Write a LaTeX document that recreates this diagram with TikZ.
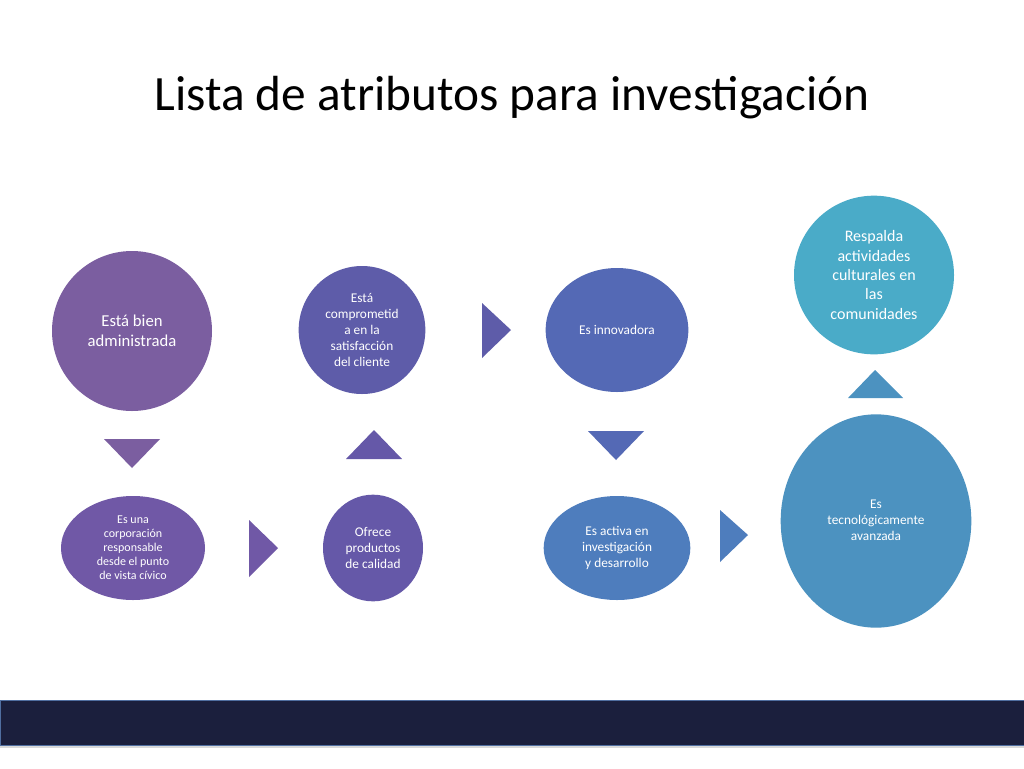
\documentclass[tikz,border=0pt]{standalone}
\usepackage{fontspec}
\setmainfont{Carlito}
\usetikzlibrary{shapes.geometric}
\begin{document}
\begin{tikzpicture}[x=0.75pt,y=-0.75pt,
  el/.style={ellipse,inner sep=0pt,text=white,align=center,font=\fontsize{10}{12}\selectfont},
  tri/.style={fill=#1}]
\useasboundingbox (0,0) rectangle (1024,768);
\fill[white] (0,0) rectangle (1024,768);
\node (title) at (512,98) {\fontsize{37}{44}\selectfont Lista de atributos para investigación};
\fill[black!15] (0,702) rectangle (1024,748);
\filldraw[fill={rgb,255:red,27;green,31;blue,61},draw={rgb,255:red,80;green,110;blue,160},line width=0.6pt] (0,700) rectangle (1024,745);
\definecolor{c1}{RGB}{123,94,160}
\definecolor{c2}{RGB}{112,88,166}
\definecolor{c3}{RGB}{101,88,168}
\definecolor{c4}{RGB}{94,92,169}
\definecolor{c5}{RGB}{84,105,181}
\definecolor{c6}{RGB}{78,125,189}
\definecolor{c7}{RGB}{76,146,192}
\definecolor{c8}{RGB}{74,171,200}
\node[el,fill=c1,minimum width=120pt,minimum height=120pt,font=\fontsize{12.5}{15}\selectfont] (e1) at (132,331) {Está bien\\administrada};
\node[el,fill=c2,minimum width=108pt,minimum height=78pt,font=\fontsize{9}{10.5}\selectfont] (e2) at (133,548) {Es una\\corporación\\responsable\\desde el punto\\de vista cívico};
\node[el,fill=c3,minimum width=75pt,minimum height=80pt] (e3) at (373,548) {Ofrece\\productos\\de calidad};
\node[el,fill=c4,minimum width=95pt,minimum height=96pt] (e4) at (362,330) {Está\\comprometid\\a en la\\satisfacción\\del cliente};
\node[el,fill=c5,minimum width=107pt,minimum height=93pt] (e5) at (617,330) {Es innovadora};
\node[el,fill=c6,minimum width=110pt,minimum height=78pt] (e6) at (617,548) {Es activa en\\investigación\\y desarrollo};
\node[el,fill=c7,minimum width=143pt,minimum height=160pt,yshift=-0pt] (e7) at (876,521) {};
\node[text=white,align=center,font=\fontsize{10}{12}\selectfont] (t7) at (876,520) {Es\\tecnológicamente\\avanzada};
\node[el,fill=c8,minimum width=120pt,minimum height=119pt,font=\fontsize{12}{14.5}\selectfont] (e8) at (874,275) {Respalda\\actividades\\culturales en\\las\\comunidades};
\fill[c1] (104,439) -- (160,439) -- (132,468) -- cycle;
\fill[c2] (249,520) -- (278,548) -- (249,577) -- cycle;
\fill[c3] (346,459) -- (402,459) -- (374,430) -- cycle;
\fill[c4] (482,303) -- (511,330) -- (482,358) -- cycle;
\fill[c5] (588,431) -- (644,431) -- (616,460) -- cycle;
\fill[c6] (720,510) -- (748,535) -- (720,562) -- cycle;
\fill[c7] (848,398) -- (903,398) -- (875,370) -- cycle;
\end{tikzpicture}
\end{document}
